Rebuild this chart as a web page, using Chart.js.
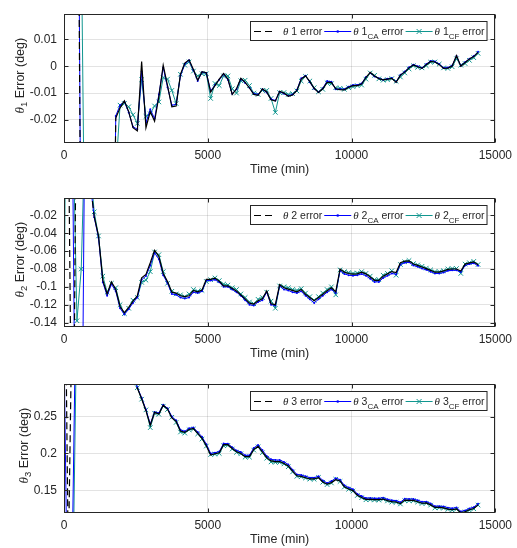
<!DOCTYPE html>
<html>
<head>
<meta charset="utf-8">
<script src="https://cdn.jsdelivr.net/npm/chart.js@4.4.1/dist/chart.umd.min.js"></script>
<style>
html, body { margin: 0; padding: 0; background: #fff; }
#wrap { position: relative; width: 517px; height: 548px; }
.box { position: absolute; left: 0; width: 517px; height: 178px; }
</style>
</head>
<body>
<div id="wrap">
  <div class="box" style="top:0px"><canvas id="theta-one" width="517" height="178"></canvas></div>
  <div class="box" style="top:184px"><canvas id="theta-two" width="517" height="178"></canvas></div>
  <div class="box" style="top:370px"><canvas id="theta-three" width="517" height="178"></canvas></div>
</div>
<script>
// sample times (min)
var timeMin = [0,150,300,450,600,750,900,1050,1200,1350,1500,1650,1800,1950,2100,2250,2400,2550,2700,2850,
  3000,3150,3300,3450,3600,3750,3900,4050,4200,4350,4500,4650,4800,4950,5100,5250,5400,5550,5700,5850,
  6000,6150,6300,6450,6600,6750,6900,7050,7200,7350,7500,7650,7800,7950,8100,8250,8400,8550,8700,8850,
  9000,9150,9300,9450,9600,9750,9900,10050,10200,10350,10500,10650,10800,10950,11100,11250,11400,11550,11700,11850,
  12000,12150,12300,12450,12600,12750,12900,13050,13200,13350,13500,13650,13800,13950,14100,14250,14400];

var timeTicks = [0, 5000, 10000, 15000];

// theta 1 (deg)
var theta1Err = [0.3,0.25,0.2,0.15,-0.1,-0.2,-0.3,-0.35,-0.3,-0.25,-0.2,-0.15,
  -0.0193,-0.0155,-0.0129,-0.0169,-0.0229,-0.0241,0.0018,-0.0229,-0.0169,-0.0205,-0.0112,0.0004,-0.0072,-0.0151,-0.0148,-0.0030,0.0012,0.0024,
  -0.0012,-0.0052,-0.0020,-0.0024,-0.0096,-0.0072,-0.0048,-0.0027,-0.0048,-0.0105,-0.0084,-0.0045,-0.0060,-0.0081,-0.0105,-0.0108,-0.0084,-0.0096,-0.0125,-0.0130,
  -0.0093,-0.0100,-0.0112,-0.0107,-0.0090,-0.0048,-0.0036,-0.0057,-0.0082,-0.0098,-0.0084,-0.0060,-0.0060,-0.0084,-0.0087,-0.0088,-0.0078,-0.0072,-0.0072,-0.0066,
  -0.0042,-0.0023,-0.0036,-0.0046,-0.0051,-0.0048,-0.0045,-0.0060,-0.0033,-0.0022,-0.0006,0.0005,-0.0002,-0.0008,0.0006,0.0018,0.0016,0.0006,-0.0008,-0.0007,
  0.0001,0.0040,0.0000,0.0014,0.0027,0.0036,0.0052];
var theta1CA = [0.3,0.25,0.2,0.16,-0.09,-0.2,-0.28,-0.33,-0.3,-0.25,-0.2,-0.15,
  -0.0185,-0.0145,-0.0132,-0.0172,-0.0225,-0.0235,-0.0020,-0.0210,-0.0160,-0.0195,-0.0105,-0.0005,-0.0078,-0.0145,-0.0142,-0.0035,0.0008,0.0022,
  -0.0015,-0.0055,-0.0022,-0.0025,-0.0092,-0.0070,-0.0050,-0.0030,-0.0050,-0.0102,-0.0086,-0.0048,-0.0062,-0.0080,-0.0102,-0.0105,-0.0086,-0.0098,-0.0122,-0.0128,
  -0.0095,-0.0102,-0.0110,-0.0105,-0.0088,-0.0045,-0.0035,-0.0060,-0.0084,-0.0096,-0.0082,-0.0055,-0.0058,-0.0086,-0.0085,-0.0086,-0.0076,-0.0070,-0.0070,-0.0064,
  -0.0040,-0.0025,-0.0038,-0.0045,-0.0050,-0.0047,-0.0044,-0.0058,-0.0032,-0.0020,-0.0004,0.0006,0.0000,-0.0006,0.0008,0.0020,0.0018,0.0008,-0.0006,-0.0005,
  0.0003,0.0038,0.0002,0.0016,0.0028,0.0038,0.0054];
var theta1CF = [-0.05,0.5,0.4,0.2,0.05,-0.1,-0.3,-0.3,-0.25,-0.2,-0.15,-0.1,
  -0.04,-0.0145,-0.0139,-0.0151,-0.0181,-0.0213,-0.0050,-0.0187,-0.0177,-0.0148,-0.0133,-0.0042,-0.0048,-0.0090,-0.0139,-0.0030,0.0004,0.0016,
  -0.0018,-0.0036,-0.0028,-0.0028,-0.0120,-0.0064,-0.0072,-0.0036,-0.0036,-0.0084,-0.0100,-0.0054,-0.0052,-0.0072,-0.0100,-0.0105,-0.0090,-0.0090,-0.0120,-0.0172,
  -0.0098,-0.0098,-0.0105,-0.0102,-0.0092,-0.0055,-0.0038,-0.0055,-0.0080,-0.0095,-0.0086,-0.0062,-0.0065,-0.0080,-0.0082,-0.0086,-0.0080,-0.0076,-0.0072,-0.0070,
  -0.0048,-0.0025,-0.0034,-0.0047,-0.0052,-0.0050,-0.0046,-0.0056,-0.0040,-0.0025,-0.0010,0.0002,-0.0004,-0.0006,0.0002,0.0015,0.0016,0.0008,-0.0006,-0.0008,
  -0.0002,0.0028,0.0004,0.0010,0.0022,0.0032,0.0048];
var theta1Ticks = [-0.02, -0.01, 0, 0.01];
var theta1Lim = [-0.0286, 0.0194];

// theta 2 (deg)
var theta2Err = [0.2,0.1,-0.4,0.2,0.15,0.1,0.02,
  -0.021,-0.0429,-0.0927,-0.108,-0.0945,-0.103,-0.122,-0.129,-0.123,-0.116,-0.110,-0.090,-0.086,-0.073,-0.059,-0.066,-0.085,-0.094,-0.106,-0.107,
  -0.110,-0.111,-0.110,-0.104,-0.1055,-0.1036,-0.0916,-0.0916,-0.0902,-0.0938,-0.0989,-0.0989,-0.1018,-0.1047,-0.1091,-0.1135,-0.1182,-0.1193,-0.1156,-0.1135,
  -0.1047,-0.119,-0.120,
  -0.0975,-0.1011,-0.1025,-0.104,-0.1055,-0.1029,-0.1084,-0.112,-0.1156,-0.112,-0.1084,-0.1044,-0.1011,-0.1055,-0.080,-0.0836,-0.0851,-0.0858,-0.0855,-0.0836,
  -0.0855,-0.0891,-0.0927,-0.0927,-0.088,-0.0855,-0.0829,-0.084,-0.073,-0.0713,-0.0709,-0.0745,-0.076,-0.0778,-0.0796,-0.0815,-0.0836,-0.0836,-0.0822,-0.0804,
  -0.080,-0.080,-0.0822,-0.0745,-0.0731,-0.072,-0.0753];
var theta2CA = [0.3,0.2,0.05,-0.5,-0.4,0.2,0.02,
  -0.022,-0.045,-0.095,-0.110,-0.097,-0.105,-0.124,-0.131,-0.125,-0.118,-0.112,-0.092,-0.088,-0.076,-0.062,-0.069,-0.087,-0.096,-0.108,-0.109,
  -0.112,-0.113,-0.112,-0.106,-0.107,-0.105,-0.093,-0.093,-0.092,-0.095,-0.100,-0.100,-0.103,-0.106,-0.110,-0.115,-0.120,-0.121,-0.117,-0.115,
  -0.106,-0.120,-0.121,
  -0.099,-0.103,-0.104,-0.106,-0.107,-0.105,-0.110,-0.114,-0.118,-0.114,-0.110,-0.106,-0.103,-0.107,-0.082,-0.0855,-0.087,-0.0875,-0.087,-0.0855,
  -0.0875,-0.091,-0.0945,-0.0945,-0.090,-0.0875,-0.085,-0.086,-0.075,-0.073,-0.0725,-0.076,-0.0775,-0.0795,-0.081,-0.083,-0.085,-0.085,-0.084,-0.082,
  -0.0815,-0.0815,-0.0835,-0.076,-0.0745,-0.0735,-0.0765];
var theta2CF = [-0.16,0.5,0.1,-0.138,-0.08,0.1,0.04,
  -0.016,-0.043,-0.088,-0.106,-0.096,-0.101,-0.120,-0.130,-0.124,-0.115,-0.112,-0.095,-0.0925,-0.083,-0.061,-0.064,-0.083,-0.096,-0.105,-0.108,
  -0.109,-0.111,-0.108,-0.103,-0.105,-0.104,-0.094,-0.092,-0.090,-0.093,-0.097,-0.098,-0.101,-0.103,-0.108,-0.112,-0.117,-0.119,-0.114,-0.112,
  -0.106,-0.116,-0.124,
  -0.099,-0.100,-0.101,-0.103,-0.104,-0.102,-0.107,-0.111,-0.115,-0.111,-0.107,-0.103,-0.100,-0.109,-0.081,-0.083,-0.084,-0.085,-0.0845,-0.083,
  -0.085,-0.088,-0.092,-0.092,-0.087,-0.085,-0.082,-0.087,-0.075,-0.072,-0.0705,-0.074,-0.0755,-0.077,-0.079,-0.081,-0.083,-0.083,-0.082,-0.080,
  -0.0795,-0.0795,-0.085,-0.0745,-0.073,-0.0715,-0.075];
var theta2Ticks = [-0.14, -0.12, -0.1, -0.08, -0.06, -0.04, -0.02];
var theta2Lim = [-0.145, -0.0007];

// theta 3 (deg)
var theta3Err = [0.6,0.05,0.45,0.5,0.55,0.55,0.52,0.5,0.48,0.45,0.42,0.4,0.38,0.36,0.34,0.325,0.31,
  0.2886,0.2741,0.2579,0.2382,0.2557,0.2535,0.2654,0.2601,0.2482,0.2434,0.2303,0.2285,0.2325,0.2338,0.2272,0.2206,0.2105,0.1978,0.1996,0.2009,
  0.2118,0.2118,0.2066,0.2022,0.2000,0.1956,0.1956,0.2053,0.2096,0.2022,0.1943,0.1899,0.1890,
  0.1890,0.1864,0.1829,0.1759,0.1697,0.1689,0.1671,0.1654,0.1654,0.1671,0.1614,0.1583,0.1605,0.1645,0.1627,0.1548,0.1518,0.1496,0.1434,0.1404,
  0.1377,0.1377,0.1373,0.1373,0.1382,0.1360,0.1346,0.1342,0.1320,0.1368,0.1364,0.1364,0.1346,0.1325,0.1329,0.1303,0.1268,0.1268,0.1263,0.1246,
  0.1237,0.1250,0.1197,0.1210,0.1237,0.1254,0.1303];
var theta3CA = [0.35,-0.1,0.1,0.5,0.55,0.55,0.52,0.5,0.48,0.45,0.42,0.4,0.38,0.36,0.34,0.325,0.31,
  0.2895,0.2755,0.2595,0.2400,0.2560,0.2548,0.2660,0.2612,0.2500,0.2448,0.2320,0.2300,0.2340,0.2350,0.2290,0.2225,0.2125,0.2000,0.2010,0.2025,
  0.2135,0.2132,0.2085,0.2040,0.2020,0.1975,0.1975,0.2075,0.2115,0.2045,0.1965,0.1920,0.1912,
  0.1910,0.1885,0.1850,0.1780,0.1715,0.1708,0.1690,0.1672,0.1672,0.1690,0.1635,0.1600,0.1625,0.1665,0.1645,0.1568,0.1538,0.1515,0.1452,0.1422,
  0.1395,0.1395,0.1392,0.1392,0.1400,0.1378,0.1365,0.1360,0.1340,0.1386,0.1382,0.1383,0.1365,0.1344,0.1347,0.1322,0.1286,0.1286,0.1282,0.1265,
  0.1256,0.1268,0.1215,0.1228,0.1255,0.1272,0.1320];
var theta3CF = [0.0,0.05,0.0,0.4,0.5,0.55,0.52,0.5,0.48,0.45,0.42,0.4,0.38,0.36,0.34,0.325,0.31,
  0.2890,0.2735,0.2590,0.2350,0.2545,0.2530,0.2640,0.2595,0.2490,0.2420,0.2290,0.2275,0.2320,0.2330,0.2265,0.2195,0.2100,0.1985,0.1990,0.2000,
  0.2105,0.2110,0.2060,0.2015,0.1995,0.1950,0.1950,0.2045,0.2090,0.2010,0.1935,0.1885,0.1880,
  0.1880,0.1858,0.1820,0.1750,0.1690,0.1685,0.1668,0.1652,0.1650,0.1675,0.1610,0.1578,0.1600,0.1650,0.1620,0.1545,0.1515,0.1490,0.1430,0.1400,
  0.1372,0.1375,0.1370,0.1368,0.1380,0.1356,0.1340,0.1338,0.1315,0.1360,0.1360,0.1360,0.1342,0.1322,0.1325,0.1300,0.1262,0.1265,0.1260,0.1242,
  0.1232,0.1245,0.1192,0.1208,0.1232,0.1250,0.1300];
var theta3Ticks = [0.15, 0.2, 0.25];
var theta3Lim = [0.1193, 0.2938];

var ErrorPlots = (function () {
    var SANS = '"Liberation Sans", Arial, Helvetica, sans-serif';
    var SERIF = '"Liberation Serif", "DejaVu Serif", serif';
    var INK = '#262626';
    var BLUE = '#0000ff';
    var TEAL = '#11968f';

    Chart.defaults.font.family = SANS;

    var toPoints = function (vals) {
        return timeMin.map(function (t, i) { return {x: t, y: vals[i]}; });
    };

    var richWidth = function (ctx, parts) {
        var w = 0;
        parts.forEach(function (p) { ctx.font = p[1]; w += ctx.measureText(p[0]).width; });
        return w;
    };

    var drawRich = function (ctx, parts, x, y) {
        parts.forEach(function (p) {
            ctx.font = p[1];
            ctx.fillText(p[0], x, y + (p[2] || 0));
            x += ctx.measureText(p[0]).width;
        });
        return x;
    };

    // box, inward ticks, y label with subscript, legend
    var decor = {
        id: 'decor',
        afterDraw: function (chart, args, o) {
            var ctx = chart.ctx, a = chart.chartArea;
            var xs = chart.scales.x, ys = chart.scales.y;
            var l = Math.round(a.left) + 0.5, r = Math.round(a.right) - 0.5;
            var t = Math.round(a.top) + 0.5, b = Math.round(a.bottom) - 0.5;
            ctx.save();
            ctx.strokeStyle = INK;
            ctx.lineWidth = 1;
            ctx.setLineDash([]);
            ctx.strokeRect(l, t, r - l, b - t);
            ctx.beginPath();
            ys.ticks.forEach(function (tk) {
                var y = Math.round(ys.getPixelForValue(tk.value)) + 0.5;
                ctx.moveTo(l, y); ctx.lineTo(l + 4, y);
                ctx.moveTo(r, y); ctx.lineTo(r - 4, y);
            });
            xs.ticks.forEach(function (tk) {
                var x = Math.round(xs.getPixelForValue(tk.value)) + 0.5;
                ctx.moveTo(x, b); ctx.lineTo(x, b - 4);
                ctx.moveTo(x, t); ctx.lineTo(x, t + 4);
            });
            ctx.stroke();

            // y title
            ctx.fillStyle = INK;
            ctx.textBaseline = 'alphabetic';
            ctx.textAlign = 'left';
            var title = [['\u03b8', 'italic 13px ' + SERIF, 0], [o.num, '9.5px ' + SANS, 3], [' Error (deg)', '12.5px ' + SANS, 0]];
            ctx.save();
            ctx.translate(o.titleX, (a.top + a.bottom) / 2 - 3);
            ctx.rotate(-Math.PI / 2);
            drawRich(ctx, title, -richWidth(ctx, title) / 2, 0);
            ctx.restore();

            // legend
            var base = '10.5px ' + SANS, th = 'italic 11px ' + SERIF, sub = '8px ' + SANS;
            var items = [
                {kind: 'err', parts: [['\u03b8', th], [' ' + o.num + ' error', base]]},
                {kind: 'ca', parts: [['\u03b8', th], [' ' + o.num, base], ['CA', sub, 3.5], [' error', base]]},
                {kind: 'cf', parts: [['\u03b8', th], [' ' + o.num, base], ['CF', sub, 3.5], [' error', base]]}
            ];
            var bw = 5;
            items.forEach(function (it) { it.w = richWidth(ctx, it.parts); bw += 29 + it.w + 2; });
            var bh = 20, bx = Math.round(a.right - 8 - bw), by = Math.round(a.top + 7);
            ctx.fillStyle = '#fff';
            ctx.fillRect(bx, by, bw, bh);
            ctx.strokeStyle = INK;
            ctx.strokeRect(bx + 0.5, by + 0.5, bw - 1, bh - 1);
            var x = bx + 4, my = by + bh / 2 + 0.5;
            items.forEach(function (it) {
                ctx.beginPath();
                if (it.kind === 'err') {
                    ctx.strokeStyle = '#000';
                    ctx.lineWidth = 1.2;
                    ctx.setLineDash([7, 4]);
                    ctx.moveTo(x, my); ctx.lineTo(x + 18, my);
                    ctx.stroke();
                    ctx.setLineDash([]);
                } else if (it.kind === 'ca') {
                    ctx.strokeStyle = BLUE;
                    ctx.lineWidth = 1;
                    ctx.moveTo(x, my); ctx.lineTo(x + 27, my);
                    ctx.stroke();
                    ctx.fillStyle = BLUE;
                    ctx.beginPath();
                    ctx.arc(x + 13.5, my, 1.3, 0, Math.PI * 2);
                    ctx.fill();
                } else {
                    ctx.strokeStyle = TEAL;
                    ctx.lineWidth = 1;
                    ctx.moveTo(x, my); ctx.lineTo(x + 27, my);
                    ctx.moveTo(x + 11, my - 2.5); ctx.lineTo(x + 16, my + 2.5);
                    ctx.moveTo(x + 11, my + 2.5); ctx.lineTo(x + 16, my - 2.5);
                    ctx.stroke();
                }
                ctx.fillStyle = INK;
                drawRich(ctx, it.parts, x + 29, my + 3.5);
                x += 29 + it.w + 2;
            });
            ctx.restore();
        }
    };

    // dashes only show on the long off-scale strokes, like the dense original
    var offScaleDash = function (c) {
        var a = c.chart.chartArea;
        var out = function (p) { return p.y < a.top || p.y > a.bottom; };
        return (out(c.p0) || out(c.p1)) ? [7, 4] : undefined;
    };

    var makeChart = function (elem, num, err, ca, cf, ticks, lim, titleX) {
        return new Chart(elem, {
            type: 'line',
            data: {
                datasets: [{
                    label: 'err',
                    data: toPoints(err),
                    borderColor: '#000',
                    borderWidth: 1.2,
                    pointRadius: 0,
                    segment: { borderDash: offScaleDash }
                }, {
                    label: 'ca',
                    data: toPoints(ca),
                    borderColor: BLUE,
                    backgroundColor: BLUE,
                    borderWidth: 1,
                    pointRadius: 1,
                    pointBorderWidth: 0,
                    pointStyle: 'circle'
                }, {
                    label: 'cf',
                    data: toPoints(cf),
                    borderColor: TEAL,
                    backgroundColor: TEAL,
                    borderWidth: 1,
                    pointRadius: 3.2,
                    pointBorderWidth: 1,
                    pointStyle: 'crossRot'
                }]
            },
            options: {
                responsive: false,
                animation: false,
                devicePixelRatio: 1,
                layout: { padding: { top: 10, left: 0, right: 18, bottom: 0 } },
                plugins: {
                    legend: { display: false },
                    tooltip: { enabled: false },
                    decor: { num: num, titleX: titleX }
                },
                scales: {
                    x: {
                        type: 'linear',
                        min: 0,
                        max: 15000,
                        afterBuildTicks: function (s) { s.ticks = timeTicks.map(function (v) { return {value: v}; }); },
                        afterFit: function (s) { s.height = 35; },
                        ticks: {
                            color: INK,
                            font: { size: 12 },
                            padding: 5,
                            maxRotation: 0,
                            callback: function (v) { return String(v); }
                        },
                        grid: { color: 'rgba(38,38,38,0.13)', drawTicks: false },
                        border: { display: false },
                        title: {
                            display: true,
                            text: 'Time (min)',
                            color: INK,
                            font: { size: 12.5 },
                            padding: { top: 0, bottom: 1 }
                        }
                    },
                    y: {
                        min: lim[0],
                        max: lim[1],
                        afterBuildTicks: function (s) { s.ticks = ticks.map(function (v) { return {value: v}; }); },
                        afterFit: function (s) { s.width = 64; },
                        ticks: {
                            color: INK,
                            font: { size: 12 },
                            padding: 7,
                            callback: function (v) { return String(+v.toFixed(4)); }
                        },
                        grid: { color: 'rgba(38,38,38,0.13)', drawTicks: false },
                        border: { display: false }
                    }
                }
            },
            plugins: [decor]
        });
    };

    var init = function () {
        makeChart('theta-one', '1', theta1Err, theta1CA, theta1CF, theta1Ticks, theta1Lim, 24);
        makeChart('theta-two', '2', theta2Err, theta2CA, theta2CF, theta2Ticks, theta2Lim, 24);
        makeChart('theta-three', '3', theta3Err, theta3CA, theta3CF, theta3Ticks, theta3Lim, 28);
    };

    init();
    return {};
})();
</script>
</body>
</html>
